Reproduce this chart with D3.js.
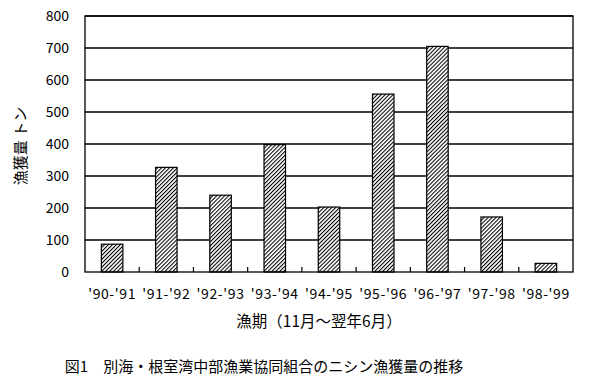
<!DOCTYPE html>
<html>
<head>
<meta charset="utf-8">
<script src="https://cdn.jsdelivr.net/npm/d3@7"></script>
<style>
body { margin: 0; background: #fff; }
svg { font-family: "Noto Sans CJK JP", sans-serif; }
</style>
</head>
<body>
<svg class="chart" width="612" height="389"></svg>
<script>
// 漁期ごとのニシン漁獲量 (トン)
const seasons = ["'90-'91", "'91-'92", "'92-'93", "'93-'94", "'94-'95", "'95-'96", "'96-'97", "'97-'98", "'98-'99"];
const catchTons = [87, 327, 240, 398, 203, 556, 705, 172, 27];
const yTicks = [0, 100, 200, 300, 400, 500, 600, 700, 800];

const svg = d3.select(".chart");
const plotL = 85, plotR = 573, plotT = 16, plotB = 272;

// hatch
const defs = svg.append("defs");
const pat = defs.append("pattern")
    .attr("id", "hatch")
    .attr("patternUnits", "userSpaceOnUse")
    .attr("width", 2.8).attr("height", 2.8)
    .attr("patternTransform", "rotate(45)");
pat.append("rect").attr("width", 2.8).attr("height", 2.8).attr("fill", "#fff");
pat.append("line").attr("x1", 0.5).attr("y1", 0).attr("x2", 0.5).attr("y2", 2.8)
    .attr("stroke", "#000").attr("stroke-width", 1.1);

const x = d3.scaleBand().domain(seasons).range([plotL, plotR]).paddingInner(0).paddingOuter(0);
const y = d3.scaleLinear().domain([0, 800]).range([plotB, plotT]);

// gridlines
svg.append("g").selectAll("line").data(yTicks.slice(1))
    .enter().append("line")
    .attr("x1", plotL).attr("x2", plotR)
    .attr("y1", d => y(d)).attr("y2", d => y(d))
    .attr("stroke", "#000").attr("stroke-width", 1.3);

// y tick labels
svg.append("g").selectAll("text").data(yTicks)
    .enter().append("text")
    .attr("x", 69).attr("y", d => y(d) + 5)
    .attr("text-anchor", "end")
    .attr("font-size", 14)
    .text(d => d);

// bars
const bw = 21.5;
svg.append("g").selectAll("rect").data(seasons)
    .enter().append("rect")
    .attr("x", d => x(d) + x.bandwidth() / 2 - bw / 2)
    .attr("width", bw)
    .attr("y", (d, i) => y(catchTons[i]))
    .attr("height", (d, i) => plotB - y(catchTons[i]))
    .attr("fill", "url(#hatch)")
    .attr("stroke", "#000").attr("stroke-width", 1.2);

// frame
svg.append("rect")
    .attr("x", plotL).attr("y", plotT)
    .attr("width", plotR - plotL).attr("height", plotB - plotT)
    .attr("fill", "none").attr("stroke", "#000").attr("stroke-width", 1.3);

// x ticks between categories
svg.append("g").selectAll("line").data(seasons.slice(1))
    .enter().append("line")
    .attr("x1", d => x(d)).attr("x2", d => x(d))
    .attr("y1", plotB).attr("y2", plotB - 5)
    .attr("stroke", "#000").attr("stroke-width", 1.2);

// x labels
svg.append("g").selectAll("text").data(seasons)
    .enter().append("text")
    .attr("x", d => x(d) + x.bandwidth() / 2)
    .attr("y", 299)
    .attr("text-anchor", "middle")
    .attr("font-size", 14)
    .attr("letter-spacing", 0.6)
    .text(d => d);

svg.append("text")
    .attr("x", 319).attr("y", 327)
    .attr("text-anchor", "middle")
    .attr("font-size", 15.5)
    .text("漁期（11月〜翌年6月）");

svg.append("text")
    .attr("transform", "translate(26,146) rotate(-90)")
    .attr("text-anchor", "middle")
    .attr("font-size", 15)
    .text("漁獲量 トン");

svg.append("text")
    .attr("x", 264).attr("y", 372)
    .attr("text-anchor", "middle")
    .attr("font-size", 15)
    .text("図1　別海・根室湾中部漁業協同組合のニシン漁獲量の推移");
</script>
</body>
</html>
